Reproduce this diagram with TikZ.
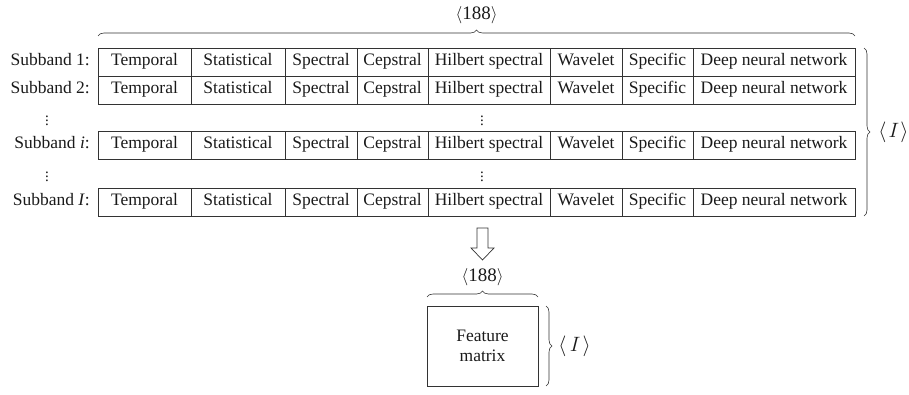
\documentclass[tikz,border=0pt]{standalone}
\usepackage{fontspec}
\setmainfont{Liberation Serif}
\usetikzlibrary{positioning, calc, decorations.pathreplacing}
\definecolor{edge}{HTML}{333333}
\definecolor{textmain}{HTML}{1A1A1A}

\begin{document}
\begin{tikzpicture}[
    x=1pt, y=-1pt,
    font=\fontsize{17.5}{20}\selectfont, text=textmain,
    cell/.style={rectangle, draw=edge, line width=0.7pt, minimum height=28pt,
                 inner sep=0pt, outer sep=0pt, text height=12pt, text depth=4pt},
    bandlabel/.style={anchor=east, inner sep=0pt, text height=12pt, text depth=4pt},
    dots/.style={inner sep=0pt, font=\fontsize{15}{15}\selectfont},
    brace/.style={decorate, decoration={brace, amplitude=6pt}, draw=edge, line width=0.6pt},
    dimlabel/.style={inner sep=0pt, font=\fontsize{19}{22}\selectfont},
    blockarrow/.style={draw=edge, line width=0.7pt, fill=white}
  ]
    \useasboundingbox (0,0) rectangle (909,395);

    \foreach \r/\y/\name in {1/62/{1}, 2/90/{2}, i/145/{\textit{i}}, I/202/{\textit{I}}} {
      \node[bandlabel] (lab-\r) at (90,\y) {Subband \name:};
      \node[cell, minimum width=93pt, anchor=west] (c-\r-1) at (98,\y) {Temporal};
      \node[cell, minimum width=94pt, right=0pt of c-\r-1] (c-\r-2) {Statistical};
      \node[cell, minimum width=72pt, right=0pt of c-\r-2] (c-\r-3) {Spectral};
      \node[cell, minimum width=71pt, right=0pt of c-\r-3] (c-\r-4) {Cepstral};
      \node[cell, minimum width=122pt, right=0pt of c-\r-4] (c-\r-5) {Hilbert spectral};
      \node[cell, minimum width=72pt, right=0pt of c-\r-5] (c-\r-6) {Wavelet};
      \node[cell, minimum width=71pt, right=0pt of c-\r-6] (c-\r-7) {Specific};
      \node[cell, minimum width=162pt, right=0pt of c-\r-7] (c-\r-8) {Deep neural network};
    }

    \node[dots] (dots-l1) at (47,117.5) {\vdots};
    \node[dots] (dots-m1) at (482,117.5) {\vdots};
    \node[dots] (dots-l2) at (47,173.5) {\vdots};
    \node[dots] (dots-m2) at (482,173.5) {\vdots};

    \draw[brace] ($(c-1-1.north west)+(0,-12)$) -- ($(c-1-8.north east)+(0,-12)$)
      node[dimlabel, midway, above=12pt] (top-dim) {$\langle$188$\rangle$};
    \draw[brace] ($(c-1-8.north east)+(9,0)$) -- ($(c-I-8.south east)+(9,0)$)
      node[dimlabel, midway, right=14pt, font=\fontsize{21}{24}\selectfont] (right-dim) {$\langle\mkern2mu I\mkern1mu\rangle$};

    \node[cell, minimum width=111pt, minimum height=80pt, text height=, text depth=, align=center] (fm) at (482.5,346) {Feature\\matrix};

    \coordinate (arr) at (482.5,228);
    \draw[blockarrow] (arr) ++(-5.5,0) -- ++(0,20) -- ++(-6,0) -- ++(11.5,12)
      -- ++(11.5,-12) -- ++(-6,0) -- ++(0,-20) -- cycle;

    \draw[brace] ($(fm.north west)+(0,-9)$) -- ($(fm.north east)+(0,-9)$)
      node[dimlabel, midway, above=11pt] (fm-top-dim) {$\langle$188$\rangle$};
    \draw[brace] ($(fm.north east)+(8,0)$) -- ($(fm.south east)+(8,0)$)
      node[dimlabel, midway, right=12pt, font=\fontsize{22}{25}\selectfont] (fm-right-dim) {$\langle\mkern3mu I\mkern2mu\rangle$};
\end{tikzpicture}
\end{document}
